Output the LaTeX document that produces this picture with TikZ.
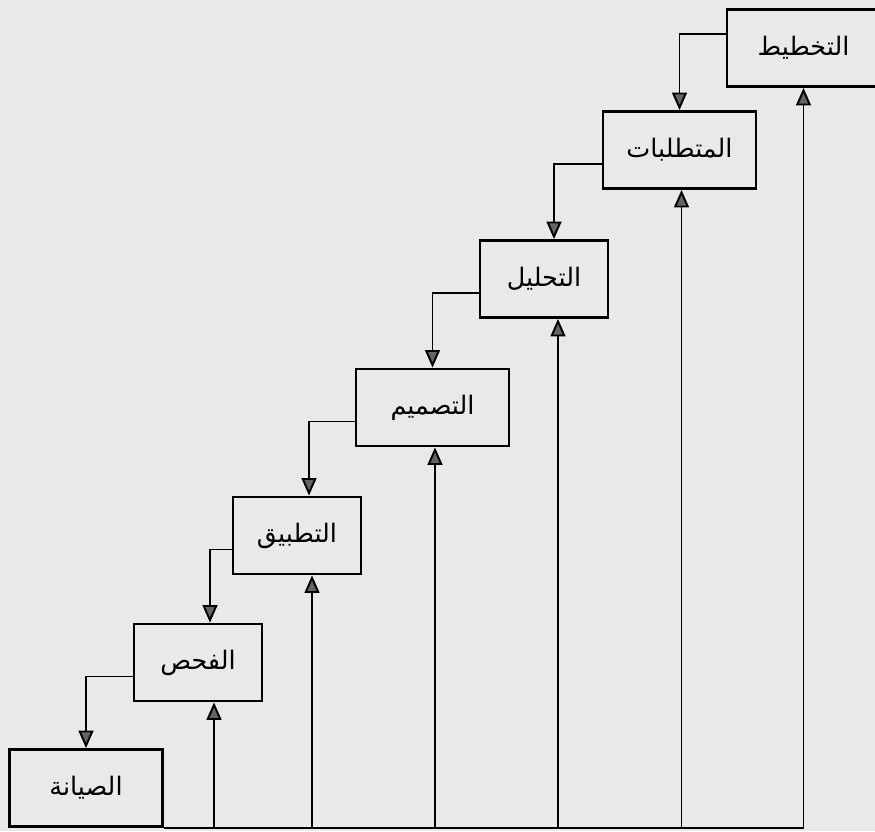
\documentclass[tikz,border=0pt]{standalone}
\usepackage{fontspec}
\newfontfamily\arabicfont[Script=Arabic]{DejaVu Sans}
\TeXXeTstate=1
\usetikzlibrary{arrows.meta}
\definecolor{paper}{RGB}{233,234,231}
\definecolor{tipgray}{RGB}{100,100,100}
\newcommand{\ar}[1]{\arabicfont\beginR #1\endR}

\begin{document}
\begin{tikzpicture}[
    stage/.style={draw,line width=1.6pt,minimum height=1.54cm,font=\fontsize{14.5}{16}\selectfont},
    wide/.style={stage,minimum width=3.06cm},
    narrow/.style={stage,minimum width=2.56cm},
    link/.style={line width=1.1pt},
    flow/.style={link,-{Triangle[width=8.5pt,length=10pt,fill=tipgray]}}
  ]
      \useasboundingbox (0,0) rectangle (17.5,16.62);
      \fill[paper] (0,0) rectangle (17.5,16.62);

      % the stages, from top right down to bottom left
      \node[wide]   (plan)   at (16.07,15.66) {\ar{التخطيط}};
      \node[wide]   (req)    at (13.59,13.62) {\ar{المتطلبات}};
      \node[narrow] (anal)   at (10.88,11.04) {\ar{التحليل}};
      \node[wide]   (design) at (8.65,8.47)   {\ar{التصميم}};
      \node[narrow] (impl)   at (5.94,5.91)   {\ar{التطبيق}};
      \node[narrow] (test)   at (3.96,3.37)   {\ar{الفحص}};
      \node[wide]   (maint)  at (1.72,0.86)   {\ar{الصيانة}};

      % going down
      \draw[flow] ([yshift=0.28cm]plan.west) -| (req.north);
      \draw[flow] ([yshift=-0.28cm]req.west) -| ([xshift=0.2cm]anal.north);
      \draw[flow] ([yshift=-0.28cm]anal.west) -| (design.north);
      \draw[flow] ([yshift=-0.28cm]design.west) -| ([xshift=0.24cm]impl.north);
      \draw[flow] ([yshift=-0.28cm]impl.west) -| ([xshift=0.24cm]test.north);
      \draw[flow] ([yshift=-0.28cm]test.west) -| (maint.north);

      % going back up
      \coordinate (corner) at (plan.south |- maint.south east);
      \draw[link] (maint.south east) -- (corner);
      \draw[flow] (corner) -- (plan.south);
      \draw[flow] ([xshift=0.04cm]req.south |- corner) -- ([xshift=0.04cm]req.south);
      \draw[flow] ([xshift=0.28cm]anal.south |- corner) -- ([xshift=0.28cm]anal.south);
      \draw[flow] ([xshift=0.05cm]design.south |- corner) -- ([xshift=0.05cm]design.south);
      \draw[flow] ([xshift=0.3cm]impl.south |- corner) -- ([xshift=0.3cm]impl.south);
      \draw[flow] ([xshift=0.32cm]test.south |- corner) -- ([xshift=0.32cm]test.south);
    \end{tikzpicture}
\end{document}
